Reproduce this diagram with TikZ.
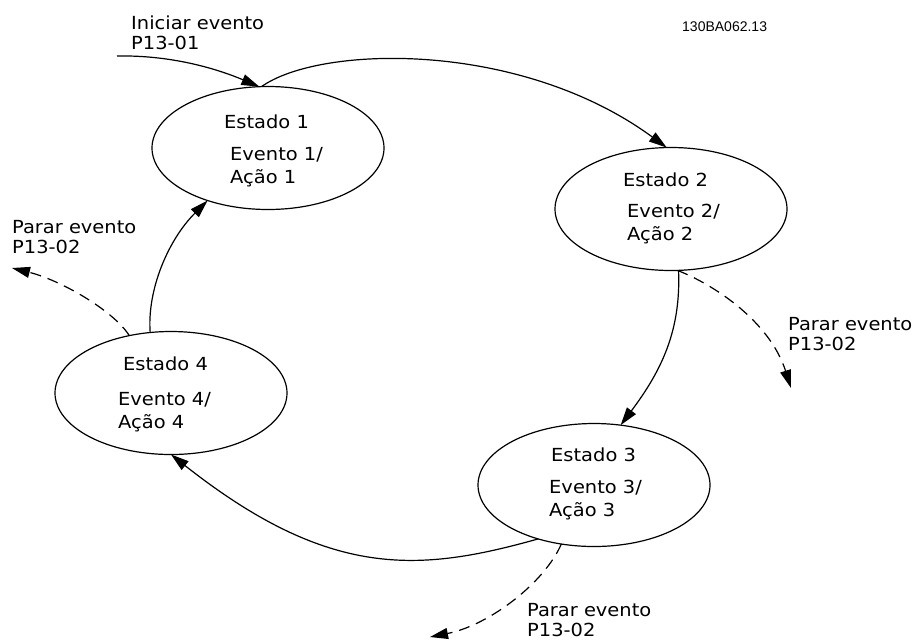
\documentclass[tikz,border=0pt]{standalone}
\usepackage{fontspec}
\setmainfont{DejaVu Sans}[FakeStretch=1.08]
\newfontfamily\codefont{Liberation Sans}
\usetikzlibrary{shapes.geometric,arrows.meta}
\begin{document}
\begin{tikzpicture}[x=1pt,y=-1pt,
  state/.style={ellipse,draw,line width=1.2pt,inner sep=0pt,outer sep=0pt,minimum width=232pt,minimum height=123pt},
  txt/.style={anchor=base west,inner sep=0pt,font=\fontsize{18}{22.5}\selectfont,align=left},
  lbl/.style={anchor=base west,inner sep=0pt,font=\fontsize{18}{19.5}\selectfont,align=left},
  conn/.style={line width=1.2pt,-{Triangle[length=18pt,width=11pt]}},
  dconn/.style={conn,dash pattern=on 11pt off 7pt}]
\useasboundingbox (0,0) rectangle (917,641);

\node[state] (e1) at (268,148) {};
\node[state] (e2) at (671,209) {};
\node[state] (e3) at (594,485) {};
\node[state] (e4) at (171,393) {};

% multi-line nodes: base anchor lies on the last line
\node[txt] (t1) at (224,128) {Estado 1};
\node[txt] (a1) at (230,183) {Evento 1/\\Ação 1};
\node[txt] (t2) at (623,186) {Estado 2};
\node[txt] (a2) at (627,240) {Evento 2/\\Ação 2};
\node[txt] (t3) at (551,461) {Estado 3};
\node[txt] (a3) at (549,516) {Evento 3/\\Ação 3};
\node[txt] (t4) at (123,370) {Estado 4};
\node[txt] (a4) at (118,428) {Evento 4/\\Ação 4};

\node[lbl] (lstart) at (131,49) {Iniciar evento\\P13-01};
\node[lbl] (lstop4) at (12,253) {Parar evento\\P13-02};
\node[lbl] (lstop2) at (788,350) {Parar evento\\P13-02};
\node[lbl] (lstop3) at (527,636) {Parar evento\\P13-02};
\node[anchor=base west,inner sep=0pt,font=\codefont\fontsize{14}{16}\selectfont] (code) at (682,31) {130BA062.13};

\coordinate (s0) at (117,56);
\coordinate (d2) at (791,388);
\coordinate (d3) at (430,637);
\coordinate (d4) at (12,268);

\draw[conn] (s0) .. controls (170,55) and (215,68) .. (e1.98);
\draw[conn] (e1.96) .. controls (320,45) and (520,40) .. (e2.94);
\draw[conn] (e2.277) .. controls (681,330) and (662,370) .. (e3.66);
\draw[conn] (e3.224) .. controls (420,572) and (330,580) .. (e4.270);
\draw[conn] (e4.109) .. controls (147,290) and (168,240) .. (e1.221);

\draw[dconn] (e2.276) .. controls (715,285) and (770,322) .. (d2);
\draw[dconn] (e3.241) .. controls (545,582) and (490,625) .. (d3);
\draw[dconn] (e4.126) .. controls (113,310) and (60,280) .. (d4);
\end{tikzpicture}
\end{document}
